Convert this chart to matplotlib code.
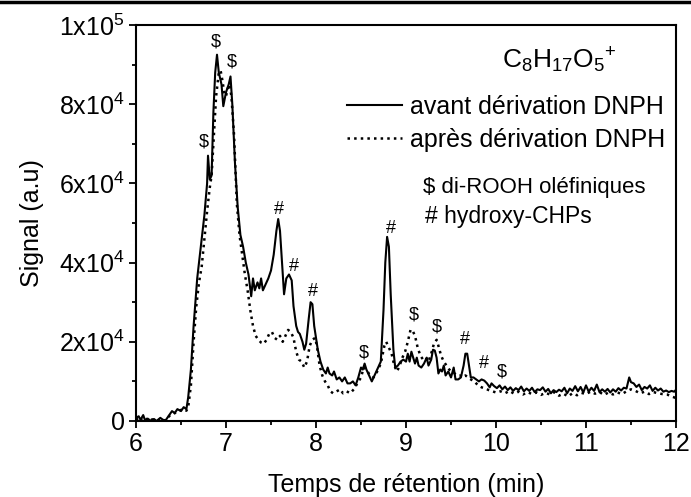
import matplotlib
matplotlib.use("Agg")
import matplotlib.pyplot as plt
from matplotlib.lines import Line2D
from matplotlib.ticker import MultipleLocator

plt.rcParams['font.family'] = ['Liberation Sans', 'DejaVu Sans']
plt.rcParams['mathtext.fontset'] = 'custom'
plt.rcParams['mathtext.rm'] = 'Liberation Sans'
plt.rcParams['mathtext.it'] = 'Liberation Sans:italic'
plt.rcParams['mathtext.bf'] = 'Liberation Sans:bold'

# ---------------- data ----------------
time_avant = [6.00, 6.03, 6.05, 6.08, 6.10, 6.13, 6.16, 6.20, 6.23, 6.27, 6.30, 6.33, 6.36, 6.40, 6.43, 6.46,
              6.50, 6.53, 6.56, 6.58, 6.61, 6.64, 6.68, 6.72, 6.76, 6.79, 6.80, 6.82, 6.84, 6.86, 6.88, 6.90,
              6.92, 6.95, 6.97, 7.00, 7.03, 7.05, 7.07, 7.10, 7.13, 7.16, 7.19, 7.22, 7.25, 7.28, 7.30, 7.32,
              7.35, 7.37, 7.39, 7.41, 7.44, 7.47, 7.50, 7.53, 7.56, 7.58, 7.60, 7.62, 7.645, 7.67, 7.70, 7.73,
              7.75, 7.78, 7.80, 7.82, 7.85, 7.87, 7.89, 7.92, 7.94, 7.96, 7.98, 8.00, 8.02, 8.05, 8.08, 8.11,
              8.13, 8.15, 8.18, 8.20, 8.23, 8.26, 8.29, 8.32, 8.35, 8.38, 8.41, 8.44, 8.47, 8.50, 8.52, 8.54,
              8.56, 8.58, 8.62, 8.65, 8.68, 8.72, 8.75, 8.77, 8.79, 8.81, 8.83, 8.86, 8.88, 8.91, 8.94, 8.97,
              9.00, 9.02, 9.04, 9.06, 9.08, 9.10, 9.12, 9.14, 9.17, 9.20, 9.23, 9.25, 9.28, 9.30, 9.32, 9.34,
              9.36, 9.38, 9.40, 9.42, 9.44, 9.47, 9.50, 9.53, 9.55, 9.58, 9.61, 9.64, 9.66, 9.68, 9.70, 9.72,
              9.75, 9.78, 9.81, 9.84, 9.87, 9.90, 9.93, 9.95, 9.98, 10.01, 10.04, 10.07, 10.10, 10.13, 10.16,
              10.19, 10.22, 10.25, 10.28, 10.31, 10.34, 10.37, 10.40, 10.43, 10.46, 10.49, 10.52, 10.55, 10.58,
              10.61, 10.64, 10.67, 10.70, 10.73, 10.76, 10.79, 10.82, 10.85, 10.88, 10.91, 10.94, 10.97, 11.00,
              11.03, 11.06, 11.09, 11.12, 11.15, 11.18, 11.21, 11.24, 11.27, 11.30, 11.33, 11.36, 11.39, 11.42,
              11.45, 11.48, 11.50, 11.53, 11.56, 11.59, 11.62, 11.65, 11.68, 11.71, 11.74, 11.77, 11.80, 11.83,
              11.86, 11.89, 11.92, 11.95, 11.98, 12.00]
signal_avant = [800, 1200, 300, 1500, 200, 600, 100, 500, 0, 800, 300, 200, 1200, 2500, 2000, 3000,
                2500, 3500, 3000, 6000, 13000, 24000, 36000, 44000, 52000, 60000, 67000, 61000, 62000, 78000, 88000, 92500,
                88000, 85000, 79500, 83000, 85000, 87000, 80000, 65000, 54000, 47000, 44000, 40000, 37000, 31500, 36000, 33000,
                35000, 33500, 36000, 33000, 34500, 36000, 38000, 42000, 48000, 51000, 48000, 41000, 32000, 36000, 37000, 35500,
                29000, 24000, 22500, 22000, 20000, 18000, 19500, 26000, 30000, 29500, 24000, 21000, 18000, 15000, 13000, 12000,
                13500, 12000, 11500, 12500, 10500, 11000, 10000, 11000, 9500, 9500, 10000, 9000, 11000, 13500, 13000, 14500,
                13000, 12000, 10000, 11500, 13000, 15000, 28000, 40000, 46500, 44000, 32000, 18000, 13500, 14000, 15000, 15500,
                15000, 17000, 15000, 17500, 16000, 14500, 16000, 14000, 13500, 14500, 16000, 14000, 15500, 18000, 17800, 16000,
                12000, 13000, 12500, 14000, 11500, 12500, 11000, 13500, 10500, 10500, 11000, 14000, 17000, 17000, 14000, 11000,
                11000, 10500, 10000, 10500, 10200, 9500, 8500, 9500, 8800, 8300, 9000, 8000, 8700, 7800, 8500,
                7600, 8300, 7800, 8700, 7500, 8200, 7600, 8400, 7300, 8000, 7800, 8500, 7400, 8100,
                7000, 7800, 7300, 7900, 7500, 8400, 7000, 8200, 7600, 8800, 7500, 8600, 7200, 9000,
                7400, 8400, 7600, 9200, 7300, 8000, 7400, 8100, 7200, 8000, 7400, 8300, 7700, 8400,
                8200, 11000, 9800, 9500, 8600, 9200, 7800, 8600, 8200, 9000, 7600, 8400, 7700, 8200,
                7400, 7700, 7300, 7600, 7400, 7900]

time_apres = [6.00, 6.04, 6.07, 6.10, 6.14, 6.18, 6.22, 6.26, 6.30, 6.34, 6.38, 6.42, 6.46, 6.50, 6.53, 6.56,
              6.58, 6.61, 6.64, 6.67, 6.70, 6.73, 6.76, 6.79, 6.82, 6.84, 6.86, 6.89, 6.92, 6.94, 6.96, 6.98,
              7.00, 7.02, 7.04, 7.06, 7.09, 7.12, 7.15, 7.18, 7.21, 7.24, 7.27, 7.30, 7.33, 7.36, 7.39, 7.42,
              7.45, 7.48, 7.51, 7.54, 7.57, 7.60, 7.63, 7.66, 7.69, 7.72, 7.75, 7.78, 7.81, 7.84, 7.87, 7.90,
              7.93, 7.96, 7.99, 8.01, 8.04, 8.07, 8.10, 8.13, 8.16, 8.19, 8.23, 8.27, 8.30, 8.34, 8.38, 8.42,
              8.46, 8.50, 8.53, 8.56, 8.60, 8.64, 8.68, 8.72, 8.76, 8.78, 8.81, 8.84, 8.87, 8.90, 8.93, 8.96,
              8.99, 9.02, 9.05, 9.07, 9.10, 9.13, 9.16, 9.19, 9.22, 9.25, 9.28, 9.31, 9.34, 9.36, 9.39, 9.42,
              9.45, 9.48, 9.51, 9.54, 9.57, 9.60, 9.63, 9.66, 9.69, 9.72, 9.76, 9.80, 9.84, 9.88, 9.92, 9.96,
              10.00, 10.05, 10.10, 10.15, 10.20, 10.25, 10.30, 10.35, 10.40, 10.45, 10.50, 10.55, 10.60, 10.65,
              10.70, 10.75, 10.80, 10.85, 10.90, 10.95, 11.00, 11.05, 11.10, 11.15, 11.20, 11.25, 11.30, 11.35,
              11.40, 11.45, 11.50, 11.55, 11.60, 11.65, 11.70, 11.75, 11.80, 11.85, 11.90, 11.95, 12.00]
signal_apres = [300, 1000, 200, 800, 0, 400, 100, 300, -200, 500, 1500, 1800, 2500, 2800, 3000, 2600,
                3500, 9000, 20000, 29000, 35000, 39000, 46000, 53000, 59000, 62000, 70000, 82000, 88000, 88500, 86000, 83000,
                82000, 84000, 85000, 82000, 72000, 55000, 47000, 42000, 37000, 33000, 28000, 24000, 21500, 20500, 19800, 19500,
                20500, 22000, 22500, 21000, 20500, 21500, 20000, 21500, 23000, 22500, 21000, 17500, 15500, 15000, 13500, 15000,
                19000, 20500, 21000, 19000, 14000, 11500, 10000, 9000, 7500, 7000, 7500, 8000, 7000, 7500, 7000, 8000,
                9500, 11000, 13500, 13000, 11500, 11000, 12500, 14500, 19000, 20000, 18500, 17000, 14000, 12500, 14000, 16000,
                17500, 20000, 23000, 23000, 21500, 18500, 16500, 15500, 16000, 15000, 17000, 19500, 20500, 19000, 16500, 15000,
                14000, 13000, 12500, 12000, 11500, 11500, 11000, 11500, 11000, 10500, 10000, 9000, 8500, 8200, 7800, 7500,
                7200, 7500, 7000, 7600, 6900, 7400, 6700, 7300, 6800, 7200, 6600, 7100, 6700, 7300,
                6400, 6900, 6200, 7000, 6500, 7100, 6800, 7400, 6900, 7300, 6600, 7200, 6700, 7200,
                6800, 7500, 8000, 7600, 7000, 7400, 6800, 7300, 7000, 6800, 6700, 6200, 5800]

annot_labels = ['$', '$', '$', '#', '#', '#', '$', '#', '$', '$', '#', '#', '$']
annot_time = [6.75, 6.89, 7.07, 7.59, 7.76, 7.97, 8.53, 8.83, 9.09, 9.34, 9.66, 9.87, 10.06]
annot_signal = [70500, 95700, 90700, 53500, 39100, 32800, 17200, 48700, 26800, 23700, 20500, 14600, 12400]

series_labels = ['avant dérivation DNPH', 'après dérivation DNPH']
ion_label = r'$\mathregular{C_8H_{17}O_5{}^{+}}$'
note_labels = ['$ di-ROOH oléfiniques', '# hydroxy-CHPs']

xticks = [6, 7, 8, 9, 10, 11, 12]
yticks = [0, 20000, 40000, 60000, 80000, 100000]
ytick_labels = ['0', r'$\mathregular{2x10^4}$', r'$\mathregular{4x10^4}$', r'$\mathregular{6x10^4}$',
                r'$\mathregular{8x10^4}$', r'$\mathregular{1x10^5}$']
x_label = 'Temps de rétention (min)'
y_label = 'Signal (a.u)'

# ---------------- figure ----------------
fig = plt.figure(figsize=(6.91, 4.97), dpi=100)
ax = fig.add_axes([136 / 691, 1 - 421 / 497, 540 / 691, 396 / 497])

ax.plot(time_avant, signal_avant, color='black', lw=1.5, ls='-', label=series_labels[0])
ax.plot(time_apres, signal_apres, color='black', lw=1.8, ls=':', label=series_labels[1])

for lab, t, s in zip(annot_labels, annot_time, annot_signal):
    ax.text(t, s, lab, ha='center', va='center', fontsize=13, parse_math=False)

ax.set_xlim(6, 12)
ax.set_ylim(0, 100000)
ax.set_xticks(xticks)
ax.set_xticklabels([str(v) for v in xticks])
ax.set_yticks(yticks)
ax.set_yticklabels(ytick_labels)
ax.xaxis.set_minor_locator(MultipleLocator(0.5))
ax.yaxis.set_minor_locator(MultipleLocator(10000))
ax.tick_params(which='major', direction='out', length=5, width=1.3, labelsize=18, pad=3,
               top=False, right=False)
ax.tick_params(which='minor', direction='out', length=3, width=1.3, top=False, right=False)
for sp in ax.spines.values():
    sp.set_linewidth(1.5)

ax.set_xlabel(x_label, fontsize=18, labelpad=12)
ax.set_ylabel(y_label, fontsize=18, labelpad=11)

leg = ax.legend(loc='upper left', bbox_to_anchor=((347 - 136) / 540, 0.824), frameon=False,
                fontsize=18, handlelength=2.2, handletextpad=0.3, borderpad=0, borderaxespad=0,
                labelspacing=0.38)

ax.text((559 - 136) / 540, 0.91, ion_label, transform=ax.transAxes, ha='center', va='center', fontsize=19)
ax.text((423 - 136) / 540, 1 - (188 - 25) / 396, note_labels[0], transform=ax.transAxes,
        ha='left', va='center', fontsize=16, parse_math=False)
ax.text((425 - 136) / 540, 1 - (217 - 25) / 396, note_labels[1], transform=ax.transAxes,
        ha='left', va='center', fontsize=16.5, parse_math=False)

fig.add_artist(Line2D([0, 1], [1 - 1.5 / 497, 1 - 1.5 / 497], transform=fig.transFigure,
                      color='black', lw=2.5))

fig.savefig('out.png', dpi=100)
